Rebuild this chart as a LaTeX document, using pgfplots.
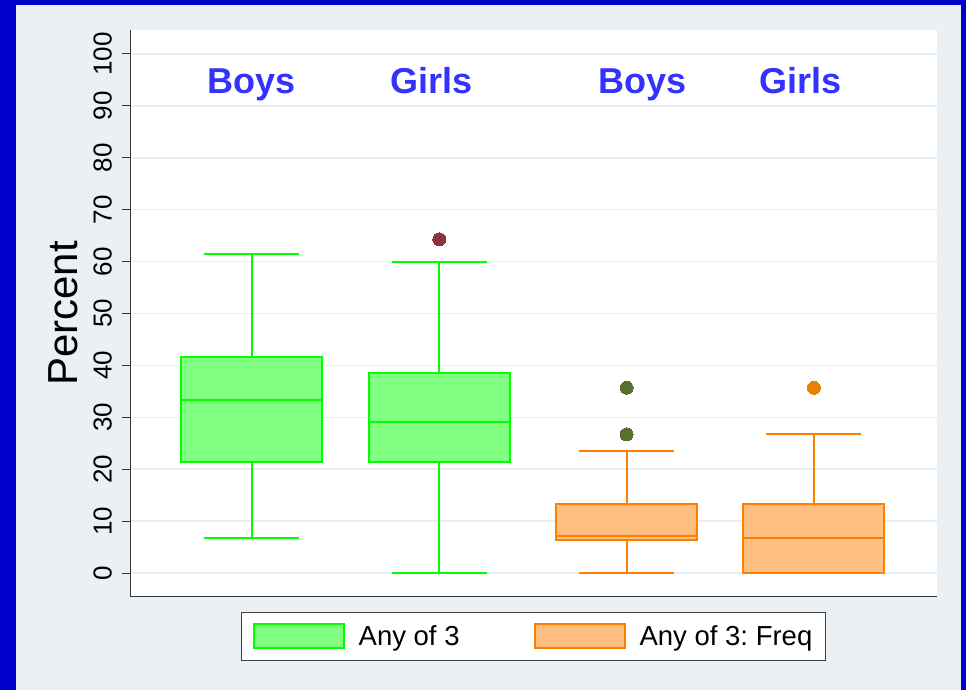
\documentclass[border=0pt]{standalone}
\usepackage{pgfplots}
\pgfplotsset{compat=1.18}
\usepgfplotslibrary{statistics}
\usepackage{fontspec}
\setmainfont{Liberation Sans}
\frenchspacing
\definecolor{frameblue}{RGB}{0,0,204}
\definecolor{bgcol}{RGB}{234,240,243}
\definecolor{gridcol}{RGB}{232,239,242}
\definecolor{gline}{RGB}{0,255,0}
\definecolor{gfill}{RGB}{128,255,128}
\definecolor{oline}{RGB}{255,128,0}
\definecolor{ofill}{RGB}{255,191,128}
\definecolor{maroonpt}{RGB}{140,53,56}
\definecolor{olivept}{RGB}{85,112,47}
\definecolor{orangept}{RGB}{232,128,10}
\definecolor{labblue}{RGB}{51,51,255}
\begin{document}
\begin{tikzpicture}
\fill[frameblue] (0pt,0pt) rectangle (966pt,690pt);
\fill[bgcol] (16pt,0pt) rectangle (961pt,685pt);
\begin{axis}[
  at={(130pt,93pt)}, anchor=south west,
  scale only axis, width=807pt, height=567pt,
  xmin=0.349, xmax=4.657, ymin=-4.62, ymax=104.62,
  axis x line*=bottom, axis y line*=left,
  axis line style={line width=1pt, draw=black!80},
  axis background/.style={fill=white},
  xtick=\empty,
  ytick={0,10,...,100},
  tick align=outside, major tick length=8pt,
  tick style={line width=1pt, draw=black!80},
  ymajorgrids, grid style={line width=1.5pt, draw=gridcol},
  /pgf/number format/assume math mode=true,
  yticklabel shift=10pt,
  yticklabel style={rotate=90, anchor=south, inner sep=0pt, font=\fontsize{26}{28}\selectfont},
  clip=false,
  boxplot/draw direction=y,
  boxplot/box extend=0.753,
  boxplot/whisker extend=0.507,
  legend columns=2,
  legend style={at={(0.5,0)}, anchor=north, yshift=-15pt,
    draw=black!75, line width=1pt, fill=white,
    inner xsep=11pt, inner ysep=11pt,
    font=\fontsize{27.5}{30}\selectfont,
    /tikz/every even column/.append style={column sep=72pt},
    /tikz/every odd column/.append style={column sep=12pt}},
]
\addlegendimage{legend image code/.code={\draw[line width=2pt, draw=gline, fill=gfill] (0pt,-12pt) rectangle (90pt,12pt);}}
\addlegendentry{Any of 3}
\addlegendimage{legend image code/.code={\draw[line width=2pt, draw=oline, fill=ofill] (0pt,-12pt) rectangle (90pt,12pt);}}
\addlegendentry{Any of 3: Freq}

\addplot[draw=gline, fill=gfill, line width=2pt,
  boxplot prepared={draw position=1, lower whisker=6.7, lower quartile=21.3,
    median=33.3, upper quartile=41.7, upper whisker=61.5}] coordinates {};
\addplot[draw=gline, fill=gfill, line width=2pt,
  boxplot prepared={draw position=2, lower whisker=0, lower quartile=21.3,
    median=29.0, upper quartile=38.5, upper whisker=60.0}] coordinates {};
\addplot[draw=oline, fill=ofill, line width=2pt,
  boxplot prepared={draw position=3, lower whisker=0, lower quartile=6.4,
    median=7.2, upper quartile=13.3, upper whisker=23.5}] coordinates {};
\addplot[draw=oline, fill=ofill, line width=2pt,
  boxplot prepared={draw position=4, lower whisker=0, lower quartile=0,
    median=6.7, upper quartile=13.3, upper whisker=26.7}] coordinates {};

\addplot[only marks, mark=*, mark size=6.5pt, mark options={draw=maroonpt, fill=maroonpt, line width=0pt}] coordinates {(2,64.3)};
\addplot[only marks, mark=*, mark size=6.5pt, mark options={draw=olivept, fill=olivept, line width=0pt}] coordinates {(3,26.7) (3,35.7)};
\addplot[only marks, mark=*, mark size=6.5pt, mark options={draw=orangept, fill=orangept, line width=0pt}] coordinates {(4,35.7)};

\node[anchor=base, text=labblue, font=\fontsize{36}{40}\selectfont\bfseries] at (axis cs:1,92.4) {Boys};
\node[anchor=base, text=labblue, font=\fontsize{36}{40}\selectfont\bfseries] at (axis cs:1.96,92.4) {Girls};
\node[anchor=base, text=labblue, font=\fontsize{36}{40}\selectfont\bfseries] at (axis cs:3.085,92.4) {Boys};
\node[anchor=base, text=labblue, font=\fontsize{36}{40}\selectfont\bfseries] at (axis cs:3.93,92.4) {Girls};
\node[rotate=90, anchor=south, inner sep=0pt, font=\fontsize{42}{46}\selectfont] at ([xshift=-52pt]rel axis cs:0,0.5) {Percent};
\end{axis}
\end{tikzpicture}
\end{document}
